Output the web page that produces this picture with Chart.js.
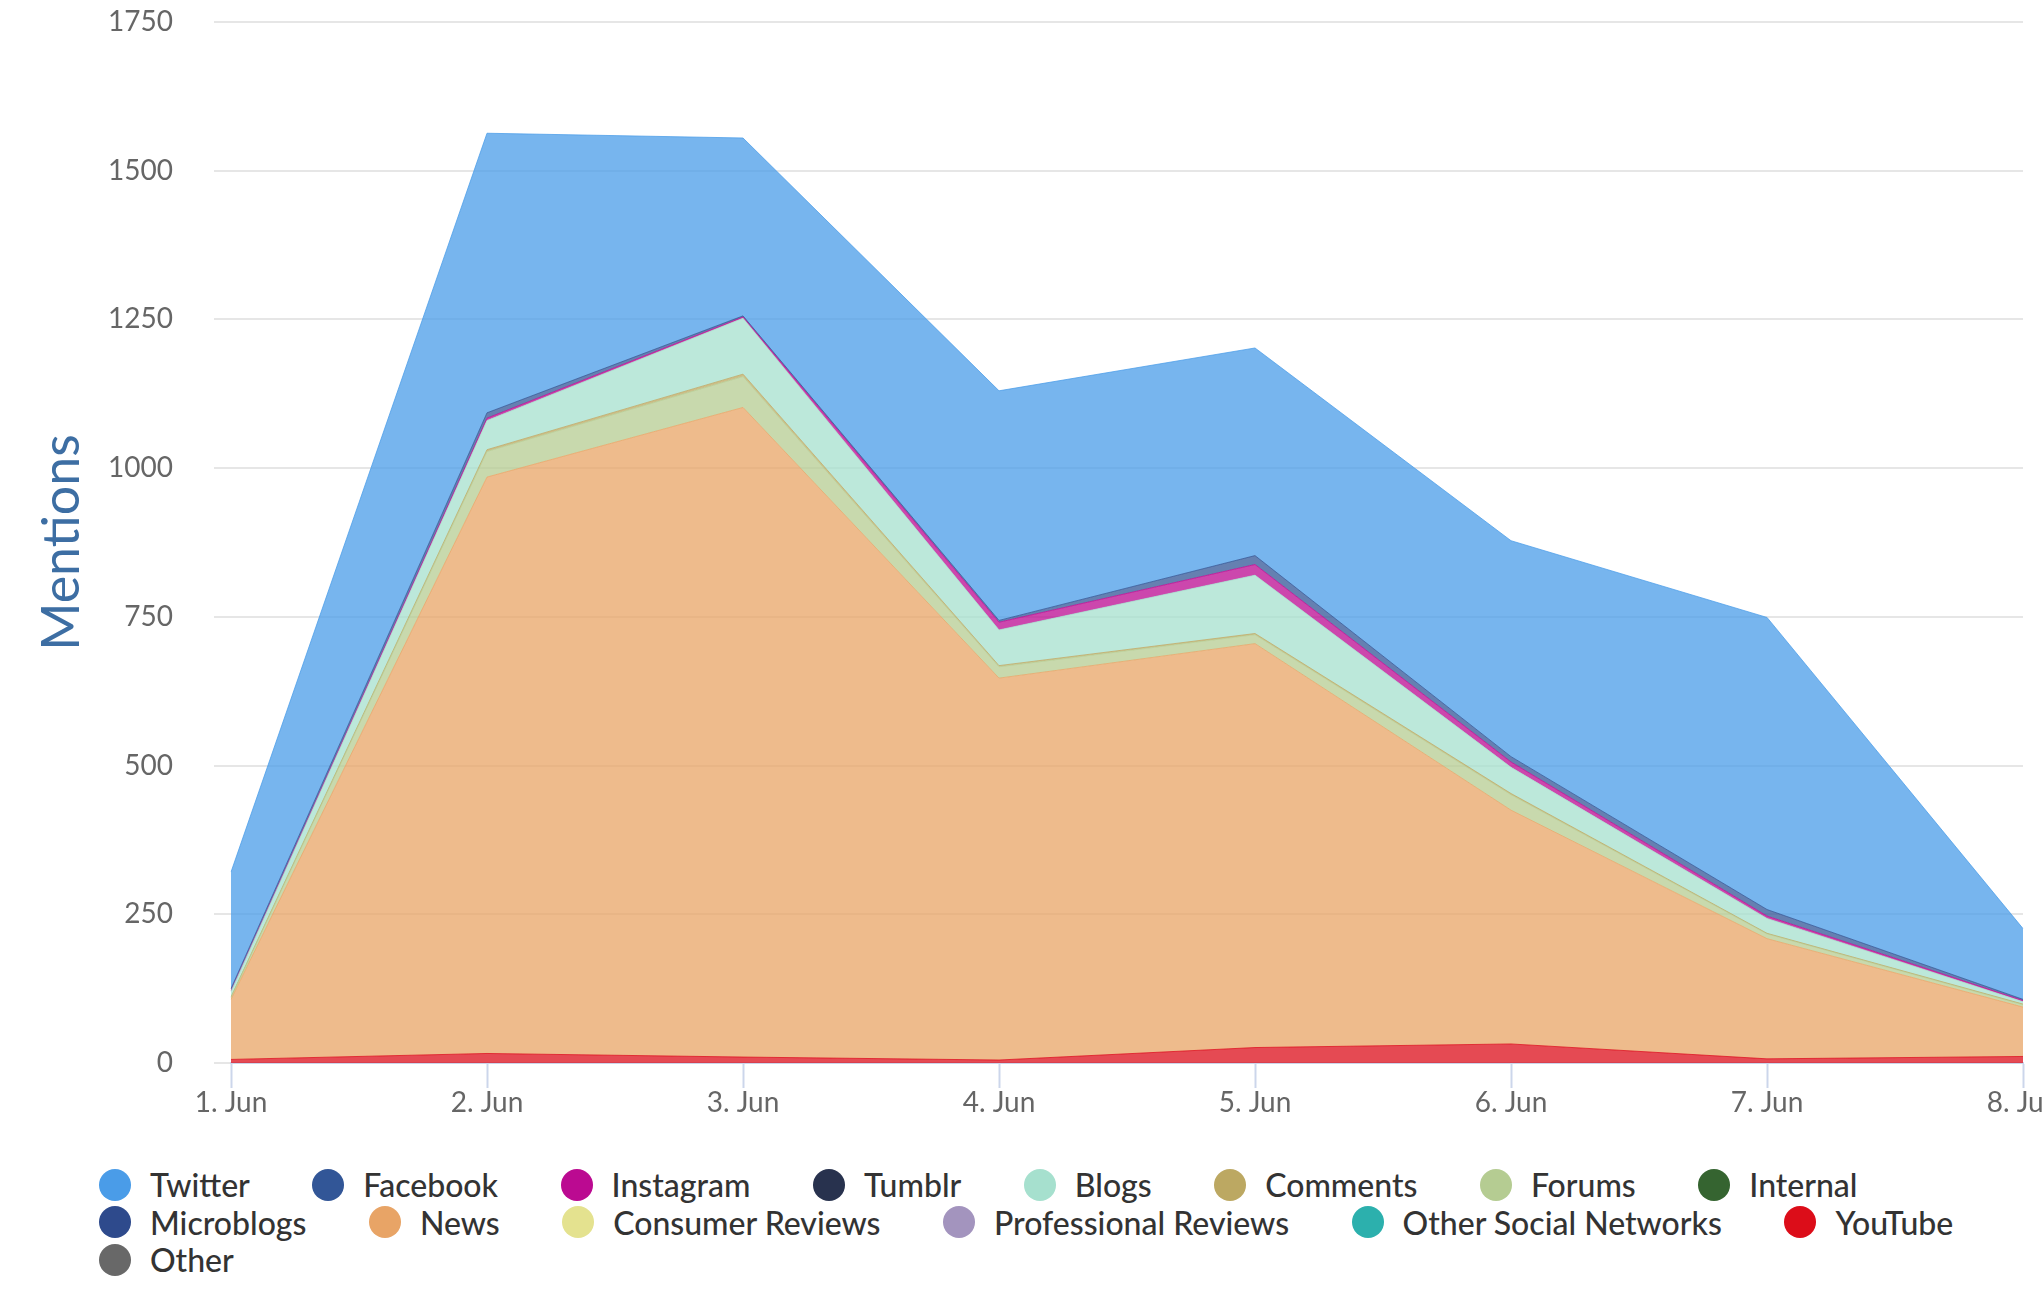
<!DOCTYPE html>
<html>
<head>
<meta charset="utf-8">
<title>Mentions</title>
<script src="https://cdn.jsdelivr.net/npm/chart.js@4.4.1/dist/chart.umd.min.js"></script>
<style>
  html, body { margin: 0; padding: 0; background: #fff; overflow: hidden; }
  #wrap { position: absolute; left: 0; top: 0; width: 2044px; height: 1130px; }
  #legend {
    position: absolute; left: 99px; top: 1166px; width: 1930px;
    display: flex; flex-wrap: wrap; column-gap: 62.5px;
    font-family: Lato, sans-serif; font-size: 32px; font-weight: 500; color: #333; line-height: 37.6px;
  }
  .item { display: flex; align-items: center; }
  .dot { width: 32px; height: 32px; border-radius: 50%; margin-right: 19px; }
</style>
</head>
<body>
<div id="wrap"><canvas id="chart"></canvas></div>
<div id="legend"></div>
<script>
// days on the x axis
var labels = ['1. Jun', '2. Jun', '3. Jun', '4. Jun', '5. Jun', '6. Jun', '7. Jun', '8. Jun'];

// mentions per source and day
var twitter         = [196, 470, 299, 386, 349, 363, 491, 119];
var facebook        = [4, 9, 2, 3, 15, 9, 11, 2];
var instagram       = [1, 4, 2, 13, 18, 9, 4, 2];
var tumblr          = [0, 0, 0, 0, 0, 0, 0, 0];
var blogs           = [9, 49, 94, 60, 98, 44, 25, 4];
var comments        = [1, 3, 4, 2, 2, 2, 1, 1];
var forums          = [3, 43, 52, 19, 15, 26, 8, 4];
var internal        = [0, 0, 0, 0, 0, 0, 0, 0];
var microblogs      = [0, 0, 0, 0, 0, 0, 0, 0];
var news            = [101, 969, 1092, 642, 679, 393, 202, 83];
var consumerReviews = [0, 0, 0, 0, 0, 0, 0, 0];
var proReviews      = [0, 0, 0, 0, 0, 0, 0, 0];
var otherSocial     = [0, 0, 0, 0, 0, 0, 0, 0];
var youtube         = [6, 16, 10, 5, 26, 32, 7, 11];
var other           = [0, 0, 0, 0, 0, 0, 0, 0];

// legend order (first one is drawn on top of the stack)
var seriesNames = ['Twitter', 'Facebook', 'Instagram', 'Tumblr', 'Blogs', 'Comments', 'Forums', 'Internal',
  'Microblogs', 'News', 'Consumer Reviews', 'Professional Reviews', 'Other Social Networks', 'YouTube', 'Other'];
var seriesValues = [twitter, facebook, instagram, tumblr, blogs, comments, forums, internal,
  microblogs, news, consumerReviews, proReviews, otherSocial, youtube, other];
var seriesColors = ['#4a9ce8', '#325697', '#bb0a91', '#28324e', '#a6e0ce', '#bca862', '#b5cc92', '#356430',
  '#2e4a8c', '#e8a466', '#e4e28f', '#a394be', '#2cb0ad', '#dc0d19', '#686868'];

function fade(hex, a) {
  var r = parseInt(hex.slice(1, 3), 16), g = parseInt(hex.slice(3, 5), 16), b = parseInt(hex.slice(5, 7), 16);
  return 'rgba(' + r + ',' + g + ',' + b + ',' + a + ')';
}

// Chart.js stacks in dataset order, so build bottom-up
var datasets = [];
for (var i = seriesNames.length - 1; i >= 0; i--) {
  var hasData = seriesValues[i].some(function(v) { return v > 0; });
  datasets.push({
    label: seriesNames[i],
    data: seriesValues[i],
    backgroundColor: fade(seriesColors[i], 0.75),
    borderColor: fade(seriesColors[i], 0.75),
    borderWidth: hasData ? 1 : 0,
    pointRadius: 0,
    tension: 0,
    fill: datasets.length === 0 ? 'origin' : '-1'
  });
}

var ctx = document.getElementById('chart').getContext('2d');
var chart = new Chart(ctx, {
  type: 'line',
  data: { labels: labels, datasets: datasets },
  options: {
    responsive: true,
    maintainAspectRatio: false,
    animation: false,
    layout: { padding: { top: 22, right: 21, left: 0, bottom: 0 } },
    plugins: {
      legend: { display: false },
      tooltip: { enabled: false }
    },
    scales: {
      x: {
        offset: false,
        grid: { drawOnChartArea: false, drawTicks: true, tickLength: 25, tickColor: '#ccd6eb', tickWidth: 2 },
        border: { color: '#ccd6eb', width: 2 },
        ticks: { color: '#666', font: { family: 'Lato', size: 28 }, padding: -2, maxRotation: 0, autoSkip: false },
        afterFit: function(scale) {
          scale.height = 67;
          scale.paddingLeft = 0;
          scale.paddingRight = 0;
        }
      },
      y: {
        stacked: true,
        min: 0,
        max: 1750,
        ticks: {
          stepSize: 250, color: '#666', font: { family: 'Lato', size: 28 }, padding: 41,
          callback: function(value) { return String(value); }
        },
        grid: { color: '#e6e6e6', lineWidth: 2, tickLength: 17, drawTicks: true },
        border: { display: false },
        title: {
          display: true,
          text: 'Mentions',
          color: '#3d6ea3',
          font: { family: 'Lato', size: 52 },
          padding: { top: 31, bottom: 0 }
        },
        afterFit: function(scale) {
          scale.width = 231;
          scale.paddingTop = 0;
          scale.paddingBottom = 0;
        }
      }
    }
  }
});

// html legend below the chart
var legendBox = document.getElementById('legend');
seriesNames.forEach(function(name, i) {
  var item = document.createElement('div');
  item.className = 'item';
  item.innerHTML = '<span class="dot" style="background:' + seriesColors[i] + '"></span><span>' + name + '</span>';
  legendBox.appendChild(item);
});
</script>
</body>
</html>
